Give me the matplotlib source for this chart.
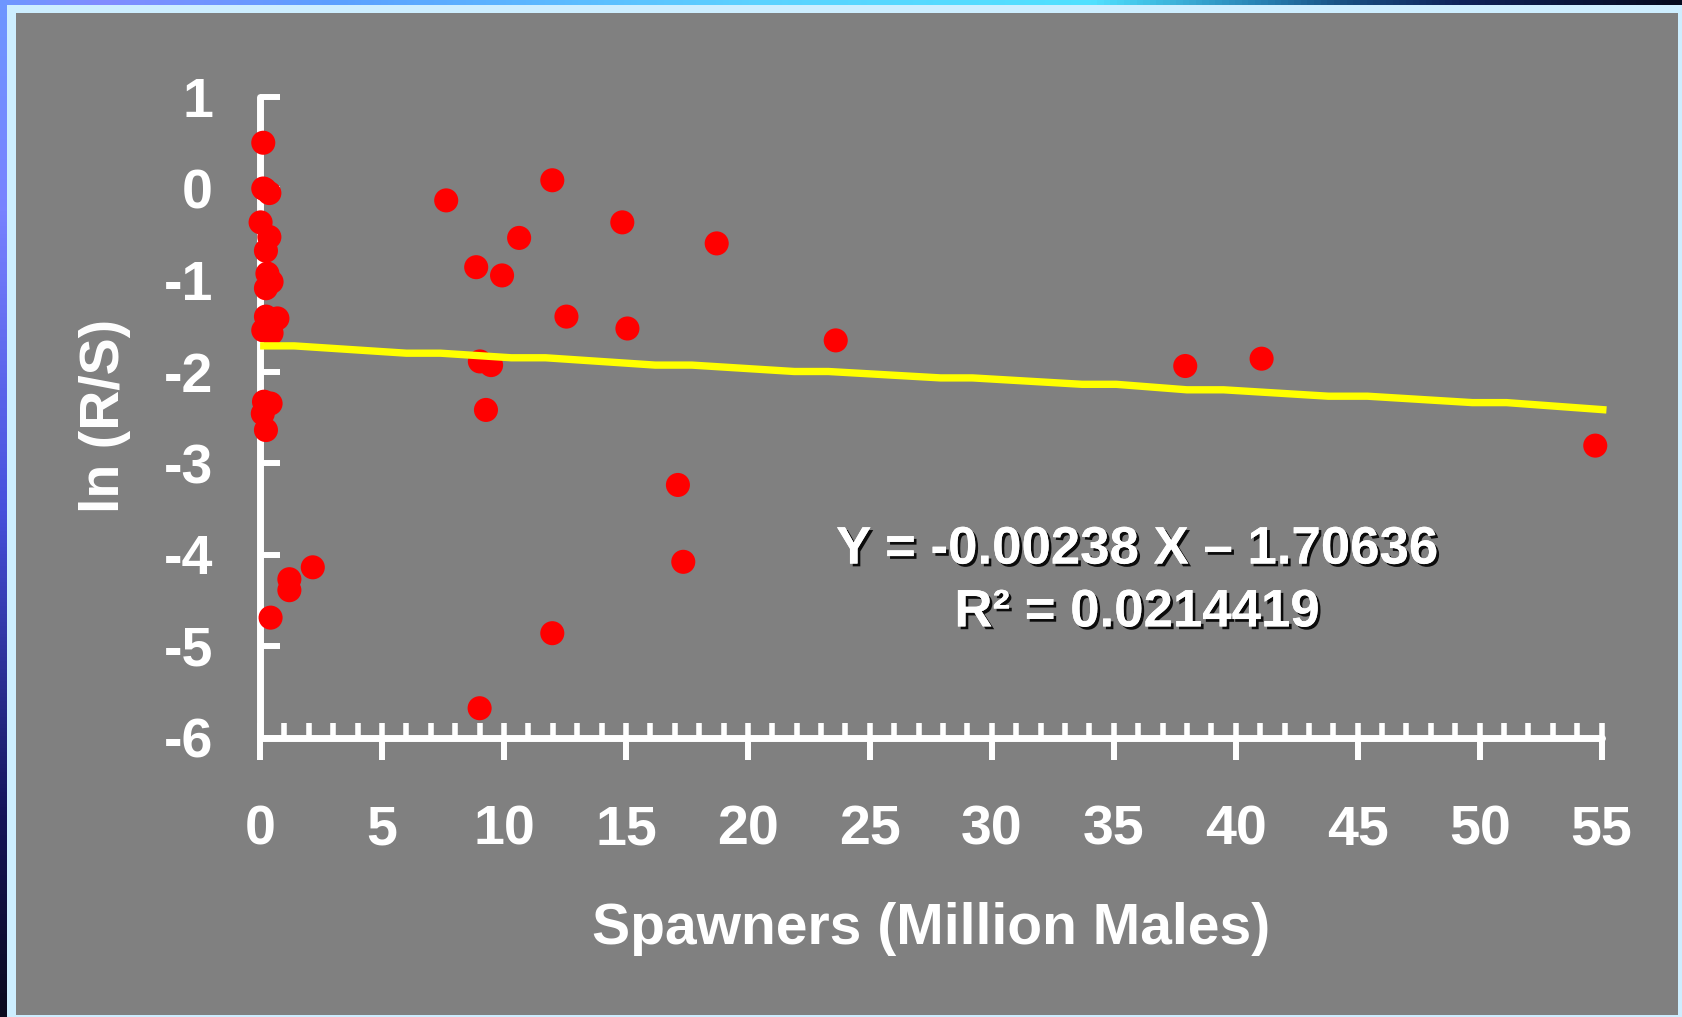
import numpy as np
import matplotlib
matplotlib.use("Agg")
import matplotlib.pyplot as plt
import matplotlib.patheffects as pe
from matplotlib.patches import Rectangle
from matplotlib.colors import LinearSegmentedColormap
from matplotlib.ticker import MultipleLocator
from matplotlib.font_manager import FontProperties

plt.rcParams["axes.unicode_minus"] = False

# spawners (million males) and ln(recruits/spawners) for each brood year
spawners = [0.13, 0.13, 0.20, 0.38, 0.02, 0.38, 0.24, 0.30, 0.47, 0.24,
            0.24, 0.71, 0.13, 0.47, 0.16, 0.43, 0.11, 0.24,
            2.16, 1.20, 1.20, 0.43,
            7.63, 11.98, 10.62, 8.86, 9.92, 12.56, 14.85, 15.06, 18.72,
            9.01, 9.47, 9.26, 17.13, 17.35, 11.98, 9.00,
            23.60, 37.93, 41.06, 54.74]
ln_rs = [0.50, 0.00, -0.01, -0.05, -0.37, -0.53, -0.68, -0.93, -1.02, -1.09,
         -1.40, -1.42, -1.55, -1.58, -2.33, -2.35, -2.46, -2.64,
         -4.14, -4.27, -4.39, -4.69,
         -0.13, 0.09, -0.54, -0.86, -0.95, -1.40, -0.37, -1.53, -0.60,
         -1.89, -1.93, -2.42, -3.24, -4.08, -4.86, -5.68,
         -1.66, -1.94, -1.86, -2.81]

# fitted line as plotted
trend_x = [0.0, 1.4, 6.0, 7.4, 10.3, 11.7, 16.2, 17.7, 21.9, 23.3, 27.9, 29.2,
           33.7, 35.1, 38.0, 39.5, 43.8, 45.4, 49.7, 51.1, 55.2]
trend_y = [-1.72, -1.72, -1.80, -1.80, -1.85, -1.85, -1.93, -1.93, -2.00, -2.00,
           -2.07, -2.07, -2.14, -2.14, -2.20, -2.20, -2.27, -2.27, -2.34, -2.34, -2.42]

fit_label = "Y = -0.00238 X \u2013 1.70636\nR\u00b2 = 0.0214419"

W, H = 1682, 1017
fig = plt.figure(figsize=(W / 100, H / 100), dpi=100)
fig.patch.set_facecolor("#cdeeff")

# slide frame: gradient strips, light border, gray panel
bg = fig.add_axes([0, 0, 1, 1], zorder=-5)
bg.set_xlim(0, W)
bg.set_ylim(H, 0)
bg.axis("off")
top_cmap = LinearSegmentedColormap.from_list("top", [
    (0.00, (110/255, 150/255, 1.0)),
    (0.06, (130/255, 140/255, 1.0)),
    (0.20, (90/255, 160/255, 1.0)),
    (0.45, (90/255, 210/255, 1.0)),
    (0.65, (80/255, 225/255, 1.0)),
    (0.75, (40/255, 130/255, 180/255)),
    (0.80, (25/255, 80/255, 130/255)),
    (0.87, (15/255, 35/255, 90/255)),
    (1.00, (5/255, 10/255, 30/255))])
left_cmap = LinearSegmentedColormap.from_list("left", [
    (0.00, (110/255, 150/255, 1.0)),
    (0.20, (120/255, 130/255, 1.0)),
    (0.50, (70/255, 80/255, 220/255)),
    (0.80, (20/255, 20/255, 90/255)),
    (1.00, (10/255, 10/255, 30/255))])
bg.imshow(np.linspace(0, 1, 256)[None, :], cmap=top_cmap, aspect="auto",
          extent=[0, W, 5, 0])
bg.imshow(np.linspace(0, 1, 256)[:, None], cmap=left_cmap, aspect="auto",
          extent=[0, 7, H, 5])
bg.add_patch(Rectangle((16, 13), 1678 - 16, 1015 - 13, facecolor="#808080",
                       edgecolor="none"))

# plot area
x0, x1 = 260.1, 1601.6
y_top, y_bot = 97.0, 737.5
ax = fig.add_axes([x0 / W, (H - y_bot) / H, (x1 - x0) / W, (y_bot - y_top) / H])
ax.set_facecolor("none")
ax.set_xlim(0, 55)
ax.set_ylim(-6, 1)

for side in ("top", "right"):
    ax.spines[side].set_visible(False)
for side in ("left", "bottom"):
    ax.spines[side].set_color("white")
    ax.spines[side].set_linewidth(5)
    ax.spines[side].set_capstyle("round")

ax.xaxis.set_major_locator(MultipleLocator(5))
ax.xaxis.set_minor_locator(MultipleLocator(1))
ax.xaxis.remove_overlapping_locs = False
ax.yaxis.set_major_locator(MultipleLocator(1))

tick_font = FontProperties(family="Liberation Sans", weight="bold", size=40)
ax.tick_params(axis="x", which="major", direction="out", length=16, width=4.3,
               color="white", pad=32, labelcolor="white")
ax.tick_params(axis="x", which="minor", direction="in", length=11, width=4.0,
               color="white")
ax.tick_params(axis="y", which="major", direction="in", length=14.5, width=4.3,
               color="white", pad=34, labelcolor="white")
for lab in ax.get_xticklabels() + ax.get_yticklabels():
    lab.set_fontproperties(tick_font)

ax.scatter(spawners, ln_rs, s=300, color="#ff0000", edgecolors="none",
           zorder=5, clip_on=False)
ax.plot(trend_x, trend_y, color="#ffff00", lw=5.3, zorder=6, clip_on=False,
        solid_capstyle="butt")

shadow = [pe.withSimplePatchShadow(offset=(2, -2), shadow_rgbFace="black", alpha=0.9),
          pe.Normal()]
fig.text(1137 / W, 1 - 581 / H, fit_label, ha="center", va="center",
         color="white", fontsize=38, fontweight="bold", linespacing=1.33,
         family="Liberation Sans", path_effects=shadow)

fig.text(931 / W, 1 - 929 / H, "Spawners (Million Males)", ha="center",
         va="center", color="white", fontsize=41, fontweight="bold",
         family="Liberation Sans")
fig.text(105 / W, 1 - 416 / H, "ln (R/S)", ha="center", va="center",
         rotation=90, color="white", fontsize=40, fontweight="bold",
         family="Liberation Sans")

fig.savefig("out.png", dpi=100)
